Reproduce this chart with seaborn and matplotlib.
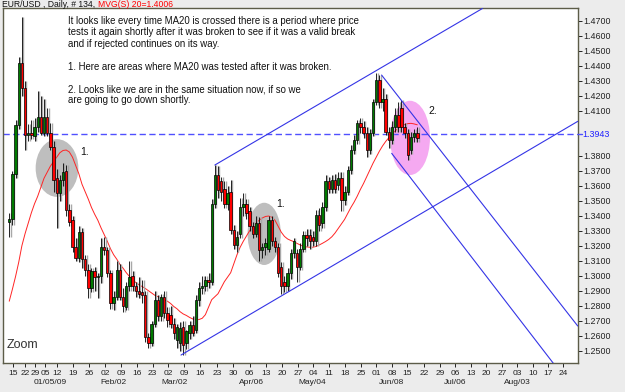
import numpy as np
import pandas as pd
import matplotlib
matplotlib.use("Agg")
import matplotlib.pyplot as plt
import matplotlib.transforms as mtransforms
from matplotlib.patches import Ellipse
import seaborn as sns

# ---------------- data ----------------
first_bar = -1
bar_open = [1.336, 1.338, 1.368, 1.4005, 1.4416, 1.425, 1.394, 1.395, 1.393, 1.399,
            1.406, 1.395, 1.406, 1.395, 1.386, 1.365, 1.355, 1.364, 1.370, 1.344,
            1.337, 1.319, 1.312, 1.329, 1.311, 1.304, 1.292, 1.303, 1.299, 1.300,
            1.319, 1.317, 1.302, 1.282, 1.286, 1.304, 1.286, 1.279, 1.293, 1.300,
            1.293, 1.290, 1.289, 1.287, 1.259, 1.255, 1.268, 1.284, 1.273, 1.286,
            1.275, 1.274, 1.268, 1.257, 1.255, 1.266, 1.255, 1.262, 1.267, 1.264,
            1.284, 1.292, 1.293, 1.297, 1.296,
            1.348, 1.367, 1.363, 1.358, 1.348, 1.356, 1.3305, 1.3205, 1.328, 1.346,
            1.348, 1.343, 1.333, 1.328, 1.335, 1.317, 1.319, 1.318, 1.337, 1.323,
            1.319, 1.306, 1.296, 1.293, 1.302, 1.315, 1.315, 1.306, 1.318, 1.327,
            1.327, 1.326, 1.323, 1.3405, 1.335, 1.346, 1.363, 1.358, 1.364, 1.3605,
            1.365, 1.3505, 1.356, 1.3705, 1.384, 1.3905, 1.4016, 1.3994, 1.395, 1.384,
            1.395, 1.416, 1.4305, 1.416, 1.418, 1.396, 1.3905, 1.3994, 1.407, 1.4116,
            1.3994, 1.395, 1.384, 1.3927, 1.395]
bar_high = [1.342, 1.370, 1.404, 1.446, 1.4727, 1.430, 1.401, 1.404, 1.405, 1.423,
            1.420, 1.418, 1.412, 1.402, 1.390, 1.371, 1.367, 1.375, 1.374, 1.348,
            1.340, 1.325, 1.333, 1.332, 1.314, 1.308, 1.305, 1.306, 1.302, 1.325,
            1.326, 1.319, 1.304, 1.290, 1.310, 1.308, 1.292, 1.296, 1.310, 1.303,
            1.296, 1.299, 1.297, 1.290, 1.262, 1.270, 1.290, 1.287, 1.288, 1.290,
            1.279, 1.280, 1.272, 1.268, 1.269, 1.270, 1.264, 1.270, 1.273, 1.287,
            1.296, 1.300, 1.300, 1.302, 1.351,
            1.374, 1.373, 1.366, 1.363, 1.360, 1.364, 1.334, 1.330, 1.352, 1.355,
            1.351, 1.346, 1.336, 1.340, 1.339, 1.322, 1.325, 1.340, 1.340, 1.326,
            1.322, 1.309, 1.300, 1.305, 1.318, 1.325, 1.318, 1.322, 1.330, 1.331,
            1.331, 1.330, 1.344, 1.345, 1.349, 1.367, 1.366, 1.367, 1.368, 1.369,
            1.369, 1.360, 1.373, 1.387, 1.394, 1.404, 1.405, 1.403, 1.399, 1.398,
            1.418, 1.435, 1.434, 1.425, 1.421, 1.399, 1.403, 1.412, 1.416, 1.417,
            1.402, 1.398, 1.396, 1.398, 1.399]
bar_low = [1.326, 1.334, 1.365, 1.398, 1.420, 1.384, 1.390, 1.391, 1.390, 1.396,
           1.394, 1.393, 1.393, 1.384, 1.356, 1.332, 1.350, 1.360, 1.340, 1.333,
           1.316, 1.310, 1.309, 1.305, 1.300, 1.285, 1.289, 1.290, 1.285, 1.295,
           1.314, 1.299, 1.278, 1.277, 1.284, 1.284, 1.276, 1.277, 1.290, 1.290,
           1.286, 1.285, 1.282, 1.256, 1.252, 1.253, 1.266, 1.270, 1.270, 1.272,
           1.266, 1.265, 1.258, 1.252, 1.250, 1.247, 1.251, 1.258, 1.260, 1.262,
           1.280, 1.288, 1.290, 1.292, 1.294,
           1.345, 1.352, 1.350, 1.345, 1.344, 1.328, 1.318, 1.316, 1.325, 1.340,
           1.338, 1.330, 1.325, 1.326, 1.310, 1.312, 1.314, 1.316, 1.320, 1.316,
           1.299, 1.288, 1.289, 1.290, 1.298, 1.312, 1.296, 1.304, 1.316, 1.320,
           1.318, 1.320, 1.320, 1.330, 1.332, 1.343, 1.355, 1.355, 1.355, 1.357,
           1.343, 1.347, 1.354, 1.368, 1.381, 1.388, 1.395, 1.392, 1.379, 1.381,
           1.393, 1.414, 1.412, 1.410, 1.394, 1.385, 1.388, 1.396, 1.396, 1.396,
           1.392, 1.377, 1.381, 1.389, 1.389]
bar_close = [1.338, 1.368, 1.4005, 1.4416, 1.425, 1.394, 1.395, 1.394, 1.399, 1.406,
             1.395, 1.406, 1.395, 1.386, 1.364, 1.355, 1.364, 1.369, 1.344, 1.336,
             1.319, 1.312, 1.329, 1.311, 1.304, 1.292, 1.303, 1.299, 1.300, 1.319,
             1.317, 1.302, 1.282, 1.286, 1.304, 1.286, 1.280, 1.293, 1.299, 1.293,
             1.290, 1.288, 1.287, 1.259, 1.255, 1.268, 1.284, 1.273, 1.286, 1.275,
             1.2705, 1.268, 1.262, 1.266, 1.265, 1.254, 1.263, 1.267, 1.262, 1.284,
             1.292, 1.293, 1.297, 1.296, 1.348,
             1.367, 1.357, 1.356, 1.348, 1.355, 1.3305, 1.3205, 1.326, 1.346, 1.348,
             1.3415, 1.333, 1.328, 1.335, 1.317, 1.319, 1.3215, 1.337, 1.323, 1.319,
             1.302, 1.293, 1.293, 1.302, 1.315, 1.323, 1.306, 1.318, 1.327, 1.325,
             1.323, 1.323, 1.3405, 1.334, 1.346, 1.363, 1.358, 1.364, 1.358, 1.365,
             1.3505, 1.356, 1.3705, 1.384, 1.3905, 1.4016, 1.3994, 1.395, 1.384, 1.395,
             1.416, 1.4305, 1.416, 1.418, 1.396, 1.3905, 1.3994, 1.407, 1.3994, 1.3994,
             1.395, 1.3805, 1.3927, 1.395, 1.392]
ma20 = [1.2830, 1.2910, 1.2995, 1.3090, 1.3200, 1.3280, 1.3350, 1.3420, 1.3480, 1.3530,
        1.3590, 1.3650, 1.3690, 1.3730, 1.3760, 1.3790, 1.3820, 1.3835, 1.3838, 1.3825,
        1.3790, 1.3735, 1.3680, 1.3610, 1.3560, 1.3510, 1.3455, 1.3410, 1.3370, 1.3320,
        1.3275, 1.3230, 1.3180, 1.3140, 1.3110, 1.3075, 1.3050, 1.3020, 1.2995, 1.2972,
        1.2955, 1.2940, 1.2928, 1.2915, 1.2900, 1.2885, 1.2870, 1.2860, 1.2850, 1.2840,
        1.2830, 1.2815, 1.2795, 1.2780, 1.2760, 1.2745, 1.2735, 1.2722, 1.2712, 1.2705,
        1.2708, 1.2716, 1.2740, 1.2790, 1.2840, 1.2860, 1.2880, 1.2920, 1.2960, 1.2990,
        1.3020, 1.3080, 1.3140, 1.3190, 1.3230, 1.3265, 1.3300, 1.3325, 1.3350, 1.3370,
        1.3385, 1.3395, 1.3398, 1.3390, 1.3370, 1.3330, 1.3290, 1.3262, 1.3245, 1.3235,
        1.3227, 1.3215, 1.3205, 1.3195, 1.3192, 1.3190, 1.3190, 1.3195, 1.3205, 1.3216,
        1.3228, 1.3242, 1.3260, 1.3285, 1.3315, 1.3345, 1.3375, 1.3415, 1.3455, 1.3490,
        1.3530, 1.3575, 1.3615, 1.3660, 1.3705, 1.3750, 1.3790, 1.3830, 1.3865, 1.3895,
        1.3920, 1.3945, 1.3965, 1.3985, 1.4000, 1.4008, 1.4014, 1.4016, 1.4012, 1.4006]

week_pos = [0.2, 4.0, 7.2, 10.4, 14.2, 19.2, 24.2, 29.3, 34.3, 39.4, 44.3, 49.3, 54.2,
            59.3, 64.6, 69.8, 75.0, 80.1, 85.3, 90.4, 95.0, 100.1, 105.1, 110.2, 114.9,
            120.0, 124.7, 130.1, 135.1, 139.9, 144.9, 149.7, 154.7, 159.5, 164.5,
            169.3, 174.0]
week_labels = ["15", "22", "29", "05", "12", "19", "26", "02", "09", "16", "23", "02",
               "09", "16", "23", "30", "06", "13", "20", "27", "04", "11", "18", "25",
               "01", "08", "15", "22", "29", "06", "13", "20", "27", "03", "10", "17", "24"]
month_pos = [11.9, 31.8, 51.4, 75.7, 94.7, 119.7, 139.9, 159.6]
month_labels = ["01/05/09", "Feb/02", "Mar/02", "Apr/06", "May/04", "Jun/08", "Jul/06", "Aug/03"]
price_ticks = [1.47, 1.46, 1.45, 1.44, 1.43, 1.42, 1.41, 1.38, 1.37, 1.36, 1.35,
               1.34, 1.33, 1.32, 1.31, 1.30, 1.29, 1.28, 1.27, 1.26, 1.25]
ref_level = 1.3943

# drawn annotations, in (bar, price)
channel_upper = [(64.0, 1.3738), (148.6, 1.4782)]
channel_lower = [(53.3, 1.2471), (178.7, 1.4029)]
fall_upper = [(116.7, 1.4338), (178.7, 1.2665)]
fall_lower = [(119.9, 1.3816), (171.0, 1.2416)]
gray_zones = [(14.1, 1.3718, 13.5, 0.0385), (79.6, 1.3279, 10.5, 0.0415)]
pink_zone = (125.7, 1.3919, 12.6, 0.0495)
zone_marks = [(21.4, 1.3828, "1."), (83.3, 1.3475, "1."), (131.4, 1.4095, "2.")]

comment_lines = ["It looks like every time MA20 is crossed there is a period where price",
                 "tests it again shortly after it was broken to see if it was a valid break",
                 "and if rejected continues on its way.",
                 "",
                 "1. Here are areas where MA20 was tested after it was broken.",
                 "",
                 "2. Looks like we are in the same situation now, if so we",
                 "are going to go down shortly."]

# ---------------- drawing ----------------
sns.set_theme(style="white")
plt.rcParams["font.family"] = ["Liberation Sans", "DejaVu Sans"]

W, H = 625, 392
fig = plt.figure(figsize=(W / 100, H / 100), dpi=100)
fig.patch.set_facecolor("#ECECEC")
L, R, T, B = 2.5, 577.7, 8.3, 363.3
ax = fig.add_axes([L / W, 1 - B / H, (R - L) / W, (B - T) / H])
ax.set_facecolor("white")

n = len(bar_close)
idx = np.arange(first_bar, first_bar + n)
df = pd.DataFrame({"bar": idx, "open": bar_open, "high": bar_high,
                   "low": bar_low, "close": bar_close, "ma": ma20})

# highlighted zones
for (cx, cy, w, h) in gray_zones:
    ax.add_patch(Ellipse((cx, cy), w, h, facecolor="#BEBEBE", edgecolor="none", zorder=1))
ax.add_patch(Ellipse(pink_zone[:2], pink_zone[2], pink_zone[3],
                     facecolor="#F5A9F1", edgecolor="none", zorder=1))

# reference level
ax.axhline(ref_level, color="#5050FF", lw=1.0, ls=(0, (4.5, 2.5)), zorder=2)

# MA20
sns.lineplot(data=df, x="bar", y="ma", ax=ax, color="#FF2424", lw=0.7, zorder=3)

# candles
up = df["close"] >= df["open"]
ax.vlines(df["bar"] + 0.45, df["low"], df["high"], color="#A8A8A8", lw=1.0, zorder=3.5)
ax.vlines(df["bar"], df["low"], df["high"], color="black", lw=0.6, zorder=4)
body_lo = np.minimum(df["open"], df["close"])
body_h = np.maximum(np.abs(df["close"] - df["open"]), 0.0004)
ax.bar(df["bar"], body_h, bottom=body_lo, width=0.75,
       color=np.where(up, "#007A00", "#FF0000"), edgecolor="black", linewidth=0.5, zorder=5)

# trend lines
for seg in (channel_upper, channel_lower, fall_upper, fall_lower):
    xs, ys = zip(*seg)
    ax.plot(xs, ys, color="#3434E6", lw=0.8, zorder=6)

# zone numbers
for (bx, py, s) in zone_marks:
    ax.text(bx, py, s, fontsize=7.5, color="#111111", va="center", ha="left", zorder=7)

# axes styling
ax.set_xlim(-3.13, 178.7)
ax.set_ylim(1.2416, 1.4783)
ax.set_xlabel("")
ax.set_ylabel("")
for s in ax.spines.values():
    s.set_color("#5C5C48")
    s.set_linewidth(1.0)

ax.yaxis.tick_right()
ax.set_yticks(price_ticks)
ax.set_yticklabels([f"{v:.4f}" for v in price_ticks])
ax.tick_params(axis="y", which="major", direction="out", length=3, width=0.7,
               pad=1, labelsize=6.4, colors="#222222", right=True, left=False)
ax.set_xticks(week_pos)
ax.set_xticklabels(week_labels)
ax.tick_params(axis="x", which="major", direction="out", length=3, width=0.7,
               pad=1.5, labelsize=6.0, colors="#222222", bottom=True)

# reference level label on the price axis
ax.annotate(f"{ref_level:.4f}", xy=(1.0, ref_level), xycoords=("axes fraction", "data"),
            xytext=(3.2, 0), textcoords="offset points", va="center", ha="left",
            fontsize=6.4, color="#2020FF", annotation_clip=False)
ax.plot([1.0, 1.0 + 4 / (R - L)], [ref_level, ref_level], color="#5050FF", lw=1.0,
        transform=mtransforms.blended_transform_factory(ax.transAxes, ax.transData),
        clip_on=False, zorder=6)

# month row under the week labels
trans = mtransforms.blended_transform_factory(ax.transData, fig.transFigure)
for p, lab in zip(month_pos, month_labels):
    ax.text(p, 1 - 383 / H, lab, transform=trans, ha="center", va="center",
            fontsize=6.0, color="#222222")

# header
hdr = fig.text(2 / W, 1 - 4.6 / H, "EUR/USD , Daily, # 134, ", fontsize=6.2,
               color="#111111", va="center", ha="left")
renderer = fig.canvas.get_renderer()
bb = hdr.get_window_extent(renderer=renderer)
fig.text(bb.x1 / W, 1 - 4.6 / H, "MVG(S) 20=1.4006", fontsize=6.2, color="#FF0000",
         va="center", ha="left")

# comment block
ys = [20.7, 32.3, 43.7, 55.0, 66.5, 78.0, 89.0, 100.2]
for y, line in zip(ys, comment_lines):
    if line:
        fig.text(68 / W, 1 - y / H, line, fontsize=6.9, color="#111111",
                 va="center", ha="left")

fig.text(7 / W, 1 - 344.5 / H, "Zoom", fontsize=9, color="#333333",
         va="center", ha="left")

fig.savefig("out.png", dpi=100, facecolor=fig.get_facecolor())
